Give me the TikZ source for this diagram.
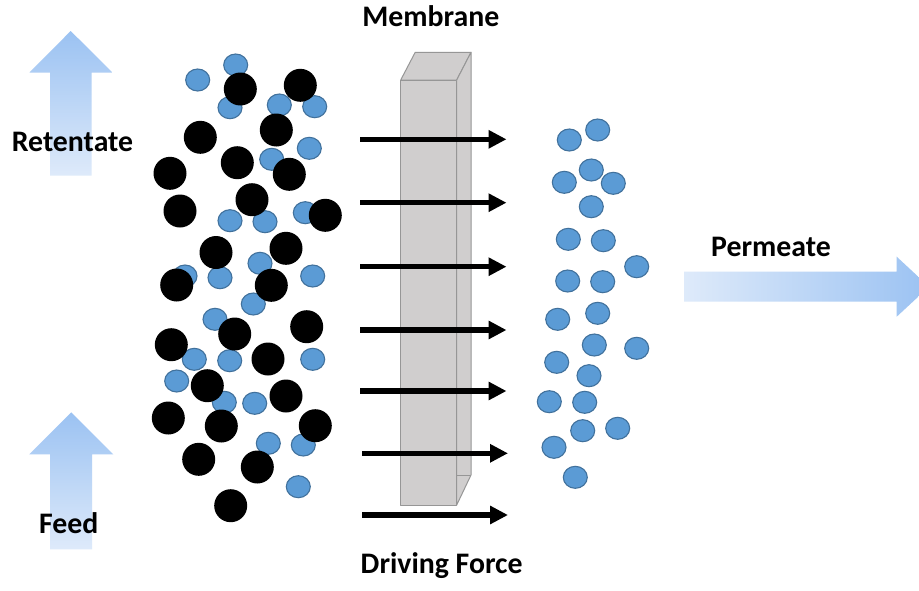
\documentclass[tikz,border=0pt]{standalone}
\usepackage{fontspec}
\setmainfont{Carlito}
\usetikzlibrary{arrows.meta,shapes.geometric}

\definecolor{dotblue}{HTML}{5B9BD5}
\definecolor{dotedge}{HTML}{41719C}
\definecolor{flowdark}{RGB}{155,194,242}
\definecolor{flowlight}{RGB}{222,234,250}
\definecolor{wallfill}{HTML}{D0CECE}
\definecolor{walledge}{RGB}{150,150,150}

\tikzset{
  solvent/.style={ellipse, fill=dotblue, draw=dotedge, line width=1.1pt,
    minimum width=24pt, minimum height=22pt, inner sep=0pt},
  solute/.style={circle, fill=black, minimum size=33pt, inner sep=0pt},
  force/.style={line width=5.3pt, -{Triangle[length=18pt,width=17.5pt]}},
  heading/.style={font=\fontsize{29.8}{35}\selectfont\bfseries, inner sep=0pt},
  wall/.style={fill=wallfill, draw=walledge, line width=1pt, line join=round},
}

\begin{document}
\begin{tikzpicture}[x=1pt,y=-1pt]
  \clip (0,0) rectangle (919,590);
  \fill[white] (0,0) rectangle (919,590);

  % flow arrows: retentate (top), feed (bottom), permeate (right)
  \shade[top color=flowdark, bottom color=flowlight]
    (70.7,31) -- (112.7,72.7) -- (91.7,72.7) -- (91.7,175.7)
    -- (50,175.7) -- (50,72.7) -- (29.3,72.7) -- cycle;
  \shade[top color=flowdark, bottom color=flowlight]
    (71.3,412.3) -- (113.3,454.3) -- (92,454.3) -- (92,549.3)
    -- (50,549.3) -- (50,454.3) -- (29.3,454.3) -- cycle;
  \shade[left color=flowlight, right color=flowdark]
    (684,271.7) -- (896.7,271.7) -- (896.7,256.7) -- (929,286.7)
    -- (896.7,316.7) -- (896.7,301.7) -- (684,301.7) -- cycle;

  % membrane block
  \draw[wall] (400.7,80) -- (415.2,52.3) -- (471,52.3) -- (456.7,80) -- cycle;
  \draw[wall] (456.7,80) -- (471,52.3) -- (471,475) -- (456.7,505) -- cycle;
  \draw[walledge, line width=1pt] (456.7,475) -- (471,475);
  \draw[wall] (400.7,80) rectangle (456.7,505);

  % driving force arrows across the membrane
  \foreach \y/\a/\b [count=\i] in {139.3/360/506.5, 202.7/360/506.5,
      266.7/360/506.5, 330/360/506.5, 391/360/506.5,
      453.3/362/508, 515/362/508} {
    \coordinate (fa\i) at (\a,\y);
    \coordinate (fb\i) at (\b,\y);
    \draw[force] (fa\i) -- (fb\i);
  }

  % feed side: small solvent molecules
  \foreach \x/\y [count=\i] in {
      235.7/65, 197.7/80, 230/107.7, 279.3/105, 314.7/106.7,
      309.3/148.3, 271.7/159.3, 230/220.7, 265/221.7, 305.3/212.7,
      260/263.3, 185/276, 220/277.7, 312.7/276, 253.3/304,
      215/319.3, 194.3/359.3, 229.7/360.7, 312.7/359.3, 176.7/381,
      224.3/402.3, 254.7/403.3, 268.3/443.3, 303.3/445, 298.3/486.7} {
    \node[solvent] (s\i) at (\x,\y) {};
  }

  % feed side: large retained solutes
  \foreach \x/\y [count=\i] in {
      240.3/89, 300.3/85.3, 200.3/137.3, 276.3/130, 237.3/162.7,
      170/173.3, 289.3/174.3, 252/199.7, 180/211, 325.3/215.3,
      216/252.5, 286/248.3, 176.7/285, 271.3/285.3, 234.7/334,
      306.7/326.7, 171.3/344.7, 268/359, 207.3/385.7, 286/396,
      168.3/418, 221.3/426, 315.3/425.7, 198.7/459.3, 257.3/467,
      230.7/505.7} {
    \node[solute] (r\i) at (\x,\y) {};
  }

  % permeate side: solvent molecules that passed
  \foreach \x/\y [count=\i] in {
      569.3/140, 597.7/130, 591.3/170, 564.3/182.3, 613.3/183.3,
      591.3/206.7, 568.3/239.3, 603.3/240.7, 636.7/266.7, 567.7/281,
      602.7/281.7, 557.7/319.3, 597.7/313.3, 594.3/345, 636.7/348.3,
      556.7/362.3, 589/375.7, 549.3/401.7, 584.7/402.3, 582.7/430.7,
      617.7/428.3, 554/447.3, 575.3/477.3} {
    \node[solvent] (p\i) at (\x,\y) {};
  }

  % labels
  \node[heading, anchor=base] (tret)  at (72.5,151.7)  {Retentate};
  \node[heading, anchor=base] (tfeed) at (68.8,533.3)  {Feed};
  \node[heading, anchor=base] (tperm) at (771,256)     {Permeate};
  \node[heading, anchor=base] (tmem)  at (430.8,26.7)  {Membrane};
  \node[heading, anchor=base] (tdf)   at (441.7,573.3) {Driving Force};
\end{tikzpicture}
\end{document}
